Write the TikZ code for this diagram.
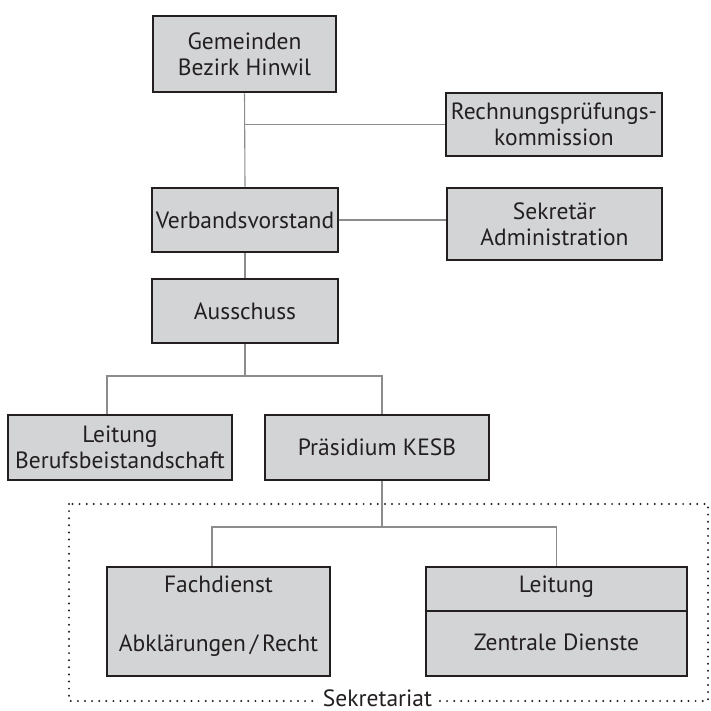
\documentclass[tikz,border=0pt]{standalone}
\usepackage{fontspec}
\setmainfont{PT Sans}
\definecolor{boxgray}{RGB}{211,212,214}
\definecolor{boxline}{RGB}{35,31,32}
\definecolor{linkgray}{RGB}{140,140,140}

\begin{document}
\begin{tikzpicture}[x=1pt,y=-1pt,
	unit/.style={draw=boxline,fill=boxgray,line width=2.8pt,inner sep=0pt,align=center,
		font=\fontsize{23.5}{26}\selectfont,text=boxline},
	txt/.style={inner sep=0pt,font=\fontsize{23.5}{26}\selectfont,text=boxline},
	link/.style={draw=linkgray,line width=1.1pt}]
	\useasboundingbox (0,0) rectangle (711,711);
	\node[unit,minimum width=183,minimum height=76] (gem) at (244.5,54) {Gemeinden\\Bezirk Hinwil};
	\node[unit,minimum width=216,minimum height=63] (rpk) at (554,124.5) {Rechnungsprüfungs-\\kommission};
	\node[unit,minimum width=186,minimum height=64] (vv) at (245,220) {Verbandsvorstand};
	\node[unit,minimum width=215,minimum height=72] (sek) at (554.5,224) {Sekretär\\Administration};
	\node[unit,minimum width=186,minimum height=64] (aus) at (245,311) {Ausschuss};
	\node[unit,minimum width=224,minimum height=65] (lbb) at (120,447.5) {Leitung\\Berufsbeistandschaft};
	\node[unit,minimum width=224,minimum height=65] (kesb) at (377,447.5) {Präsidium KESB};
	\node[unit,minimum width=223,minimum height=109] (fd) at (218.5,621.5) {};
	\node[unit,minimum width=261,minimum height=109] (zd) at (556.5,621.5) {};
	\node[txt,anchor=base] (fdA) at (218.5,592) {Fachdienst};
	\node[txt,anchor=base] (fdB) at (218.5,651) {Abklärungen\,/\,Recht};
	\node[txt,anchor=base] (zdA) at (556.5,592) {Leitung};
	\node[txt,anchor=base] (zdB) at (556.5,650) {Zentrale Dienste};
	\draw[boxline,line width=1.4pt] (zd.west |- 0,611) -- (zd.east |- 0,611);

	\coordinate (bl) at (107,376);
	\coordinate (br) at (382,376);
	\coordinate (cl) at (212,527);
	\coordinate (cr) at (556.5,527);
	\draw[link] (gem.south) -- (vv.north);
	\draw[link] (gem.south |- rpk.west) -- (rpk.west);
	\draw[link] (vv.east) -- (vv.east -| sek.west);
	\draw[link] (vv.south) -- (aus.north);
	\draw[link] (aus.south) -- (aus.south |- bl);
	\draw[link] (bl |- lbb.north) -- (bl) -- (br) -- (br |- kesb.north);
	\draw[link] (br |- kesb.south) -- (br |- cl);
	\draw[link] (cl |- fd.north) -- (cl) -- (cr) -- (cr |- zd.north);

	\draw[boxline,line width=2.2pt,line cap=round,dash pattern=on 0pt off 7.1pt] (69,504) rectangle (708,701);
	\node[txt,fill=white,inner xsep=5pt,inner ysep=0pt,anchor=base] (sekr) at (377.5,706) {Sekretariat};
\end{tikzpicture}
\end{document}
